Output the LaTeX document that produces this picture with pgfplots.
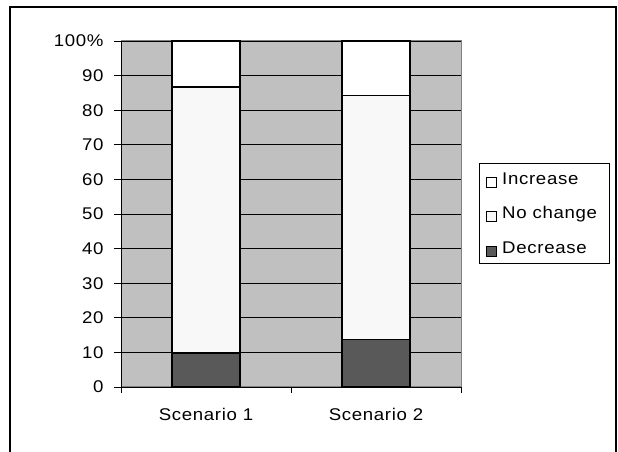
\documentclass[border=0pt]{standalone}
\usepackage{pgfplots}
\pgfplotsset{compat=1.18}
\usepackage{fontspec}
\setmainfont{Liberation Sans}[FakeStretch=1.1, LetterSpace=4]
\definecolor{plotgray}{HTML}{C0C0C0}
\definecolor{decrease}{HTML}{595959}
\definecolor{nochange}{HTML}{F8F8F8}
\begin{document}
\begin{tikzpicture}[font=\fontsize{17}{20}\selectfont]
\useasboundingbox (0,0) rectangle (618bp,452bp);
% outer chart frame (open at the bottom)
\draw[line width=1.5bp] (10bp,-2bp) -- (10bp,445bp) -- (616bp,445bp) -- (616bp,-2bp);
\begin{axis}[
  at={(121bp,65bp)}, anchor=south west,
  scale only axis, width=340bp, height=346bp,
  ybar stacked, bar width=68bp,
  xmin=-0.5, xmax=1.5, ymin=0, ymax=100,
  axis x line*=bottom, axis y line*=left,
  axis line style={-, black, line width=0.9bp},
  axis background/.style={fill=plotgray, draw=gray, line width=1bp},
  xtick={0,1}, xticklabels={Scenario 1, Scenario 2},
  minor xtick={-0.5,0.5,1.5},
  major x tick style={draw=none},
  minor tick length=6bp,
  xticklabel style={yshift=-11bp},
  ytick={0,10,...,100},
  yticklabels={0,10,20,30,40,50,60,70,80,90,100\%},
  yticklabel style={xshift=-7bp},
  tick align=outside, major tick length=7bp,
  tick style={black, line width=0.9bp},
  /pgf/number format/assume math mode=true,
  ymajorgrids, major grid style={black, line width=0.8bp},
  every axis plot/.append style={draw=black, line width=1.2bp},
  reverse legend,
  legend style={at={(1.053,0.647)}, anchor=north west, draw=black,
    line width=0.8bp, row sep=17bp, inner xsep=7bp, inner ysep=7bp,
    cells={anchor=west}, font=\fontsize{17}{20}\selectfont,
    nodes={inner xsep=5bp}},
  legend image code/.code={\draw[#1, draw=black, line width=0.8bp] (0bp,-8bp) rectangle (10bp,2bp);},
]
\addplot[fill=decrease] coordinates {(0,9.8) (1,13.7)};
\addplot[fill=nochange] coordinates {(0,76.9) (1,70.6)};
\addplot[fill=white] coordinates {(0,13.3) (1,15.7)};
\legend{Decrease, No change, Increase}
\end{axis}
\end{tikzpicture}
\end{document}
